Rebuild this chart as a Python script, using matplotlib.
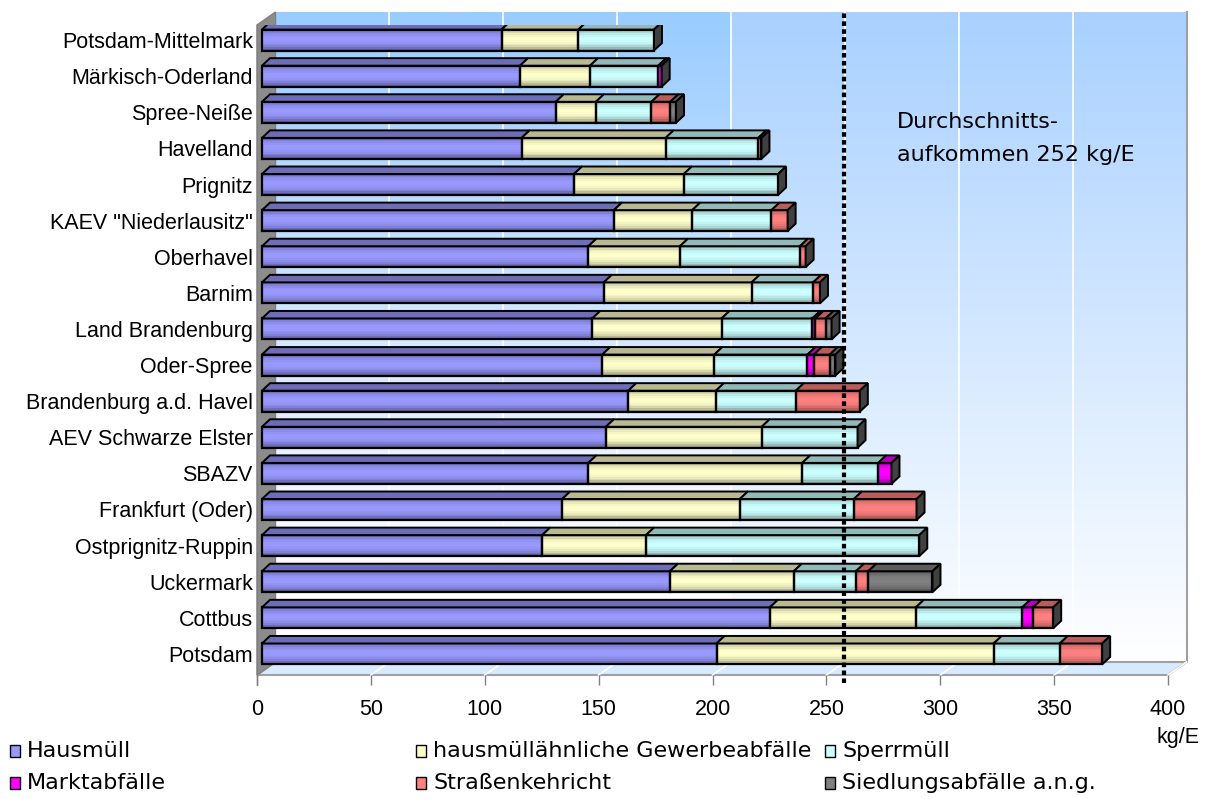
import numpy as np
import matplotlib.pyplot as plt
from matplotlib.patches import Polygon, Rectangle
from matplotlib.colors import to_rgb

plt.rcParams['font.family'] = ['Liberation Sans', 'DejaVu Sans']
plt.rcParams['font.size'] = 15.5

# Regionen von unten nach oben
regions = ['Potsdam', 'Cottbus', 'Uckermark', 'Ostprignitz-Ruppin', 'Frankfurt (Oder)',
           'SBAZV', 'AEV Schwarze Elster', 'Brandenburg a.d. Havel', 'Oder-Spree',
           'Land Brandenburg', 'Barnim', 'Oberhavel', 'KAEV "Niederlausitz"', 'Prignitz',
           'Havelland', 'Spree-Neiße', 'Märkisch-Oderland', 'Potsdam-Mittelmark']

# kg je Einwohner
hausmuell = [199.6, 223.0, 179.1, 123.0, 131.8, 143.3, 151.0, 160.8, 149.4, 145.0,
             150.1, 143.3, 154.5, 137.0, 114.0, 129.0, 113.3, 105.2]
gewerbe = [121.7, 64.1, 54.4, 45.6, 78.0, 93.9, 68.4, 38.5, 49.2, 56.8,
           64.9, 40.2, 34.4, 48.2, 63.2, 17.6, 30.7, 33.7]
sperrmuell = [29.0, 46.7, 27.3, 120.0, 50.1, 33.4, 42.1, 35.1, 40.9, 39.8,
              27.0, 52.7, 34.8, 41.4, 40.7, 24.4, 30.0, 33.2]
markt = [0, 4.8, 0, 0, 0, 5.8, 0, 0, 2.8, 1.4, 0, 0, 0, 0, 0, 0, 1.5, 0]
strassen = [18.6, 8.8, 5.4, 0, 27.5, 0, 0, 28.1, 7.0, 4.5, 3.0, 2.5, 7.1, 0, 1.4, 8.3, 0, 0]
siedlung = [0, 0, 28.2, 0, 0, 0, 0, 0, 2.5, 2.6, 0, 0, 0, 0, 0, 2.5, 0, 0]

series = ['Hausmüll', 'hausmüllähnliche Gewerbeabfälle', 'Sperrmüll',
          'Marktabfälle', 'Straßenkehricht', 'Siedlungsabfälle a.n.g.']
colors = ['#9999FF', '#FFFFCC', '#CCFFFF', '#FF00FF', '#FF8080', '#808080']
avg = 252
xticks = np.arange(0, 401, 50)

W, H = 1207, 799
fig = plt.figure(figsize=(W / 100, H / 100), dpi=100)
ax = fig.add_axes([257 / W, 124 / H, 911 / W, 650 / H])
ax.set_xlim(0, 400)
ax.set_ylim(-0.5, 17.5)
SX = 911 / 400   # Pixel je kg
SY = 650 / 18    # Pixel je Zeile

def dx(px):
    return px / SX

def dy(px):
    return px / SY

# Raumtiefe der Wände
WX, WY = 18.5, 13

# Rückwand mit Verlauf
grad = np.linspace(0, 1, 200)[:, None]
top_c = np.array(to_rgb('#99CCFF'))
mid_c = np.array(to_rgb('#D4E8FF'))
bot_c = np.array([1.0, 1.0, 1.0])
img = np.where(grad < 0.5,
               top_c + (mid_c - top_c) * (grad / 0.5)[..., None],
               mid_c + (bot_c - mid_c) * ((grad - 0.5) / 0.5)[..., None])
img = np.repeat(img, 2, axis=1)
ax.imshow(img, extent=[dx(WX), 400 + dx(WX), -0.5 + dy(WY), 17.5 + dy(WY)],
          aspect='auto', origin='upper', zorder=0, clip_on=False, interpolation='bilinear')
ax.plot([400 + dx(WX)] * 2, [-0.5 + dy(WY), 17.5 + dy(WY)], color='#A0A0A0', lw=1.5,
        clip_on=False, zorder=1)

# Gitterlinien auf Rückwand und Boden
for v in xticks[1:-1]:
    ax.plot([v + dx(WX)] * 2, [-0.5 + dy(WY), 17.5 + dy(WY)], color='white', lw=1.2,
            clip_on=False, zorder=1)

# Boden
floor = Polygon([(0, -0.5), (400, -0.5), (400 + dx(WX), -0.5 + dy(WY)), (dx(WX), -0.5 + dy(WY))],
                closed=True, facecolor='#D8EAFF', edgecolor='#A0A0A0', lw=1.5,
                clip_on=False, zorder=1)
ax.add_patch(floor)
for v in xticks[1:]:
    ax.plot([v, v + dx(WX)], [-0.5, -0.5 + dy(WY)], color='white', lw=1.2, clip_on=False, zorder=1)

# linke Seitenwand
wall = Polygon([(0, -0.5), (0, 17.5), (dx(WX), 17.5 + dy(WY)), (dx(WX), -0.5 + dy(WY))],
               closed=True, facecolor='#8C8C8C', edgecolor='#808080', lw=1,
               clip_on=False, zorder=1)
ax.add_patch(wall)

# Balken: Vorderseite in Streifen, Oberseite und Endkappe
OX, OY = 5, 3          # Versatz der Vorderseite
HH = 10.5              # halbe Balkenhöhe in Pixel
BX, BY = 8, 7.5        # Balkentiefe in Pixel
rows = np.arange(len(regions))
data = np.array([hausmuell, gewerbe, sperrmuell, markt, strassen, siedlung])
lefts = np.vstack([np.zeros(len(regions)), np.cumsum(data, axis=0)[:-1]])
totals = data.sum(axis=0)

nb = 12
band_h = 2 * HH / nb
t = (np.arange(nb) + 0.5) / nb
shade = 0.62 + 0.38 * np.sin(np.pi * np.clip(t * 1.1, 0, 1)) ** 0.6

for k, col in enumerate(colors):
    base = np.array(to_rgb(col))
    w = data[k]
    mask = w > 0
    if not mask.any():
        continue
    for b in range(nb):
        yc = rows[mask] + dy(OY + HH - (b + 0.5) * band_h)
        ax.barh(yc, w[mask], left=lefts[k][mask] + dx(OX), height=dy(band_h) * 1.05,
                color=tuple(base * shade[b]), linewidth=0, zorder=3)
    ax.barh(rows[mask] + dy(OY), w[mask], left=lefts[k][mask] + dx(OX), height=dy(2 * HH),
            fill=False, edgecolor='black', linewidth=1.6, zorder=4)
    for r in rows[mask]:
        a = lefts[k][r] + dx(OX)
        e = a + w[r]
        top = r + dy(OY + HH)
        ax.add_patch(Polygon([(a, top), (e, top), (e + dx(BX), top + dy(BY)), (a + dx(BX), top + dy(BY))],
                             closed=True, facecolor=tuple(base * 0.72), edgecolor='black',
                             lw=1.4, zorder=4))

for r in rows:
    e = totals[r] + dx(OX)
    bot = r + dy(OY - HH)
    top = r + dy(OY + HH)
    ax.add_patch(Polygon([(e, bot), (e, top), (e + dx(BX), top + dy(BY)), (e + dx(BX), bot + dy(BY))],
                         closed=True, facecolor='#404040', edgecolor='black', lw=1.4, zorder=4))

# Durchschnittslinie
ax.plot([avg + dx(OX + BX)] * 2, [-0.72, 17.82], color='black', lw=3,
        linestyle=(0, (1.1, 0.8)), clip_on=False, zorder=6)

for s in ax.spines.values():
    s.set_visible(False)
ax.set_xticks(xticks)
ax.set_xticklabels([str(v) for v in xticks])
ax.tick_params(axis='x', direction='out', length=7.5, width=1, color='#808080', pad=10)
ax.set_yticks(rows + dy(OY))
ax.set_yticklabels(regions)
ax.tick_params(axis='y', length=0, pad=3)
ax.plot([0, 0], [-0.5 - dy(10), 17.5], color='#808080', lw=1, clip_on=False, zorder=2)

wide = ['DejaVu Sans']
fig.text(897 / W, 1 - 122 / H, 'Durchschnitts-', ha='left', va='center', family=wide, fontsize=16)
fig.text(897 / W, 1 - 155 / H, 'aufkommen 252 kg/E', ha='left', va='center', family=wide, fontsize=16)
fig.text(1199 / W, 1 - 738 / H, 'kg/E', ha='right', va='center')

# Legende
leg_pos = [(10, 751), (416, 751), (825, 751), (10, 783), (416, 783), (825, 783)]
for (lx, ly), name, col in zip(leg_pos, series, colors):
    fig.patches.append(Rectangle((lx / W, 1 - (ly + 6) / H), 10 / W, 12 / H,
                                 transform=fig.transFigure, facecolor=col,
                                 edgecolor='black', lw=1))
    fig.text((lx + 17) / W, 1 - ly / H, name, ha='left', va='center',
             family=wide, fontsize=16)

fig.savefig('out.png', dpi=100)
